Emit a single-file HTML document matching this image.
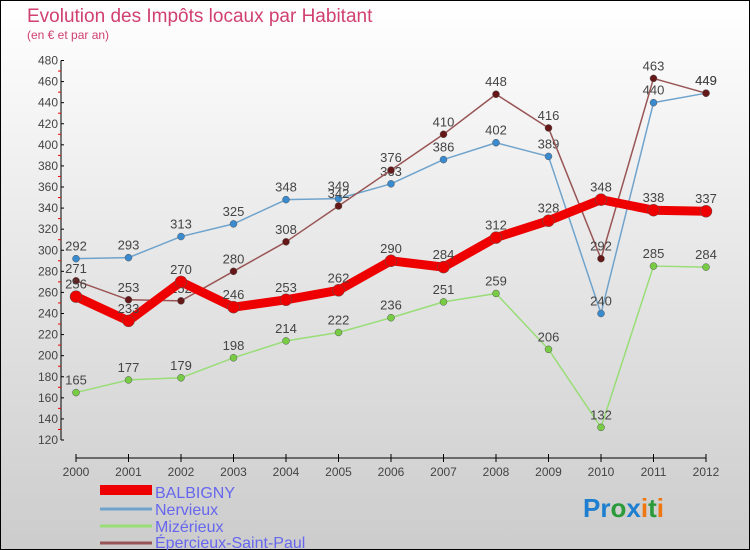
<!DOCTYPE html>
<html><head><meta charset="utf-8"><style>
body{margin:0;}
#c{width:750px;height:550px;position:relative;overflow:hidden;}
text{font-family:"Liberation Sans",sans-serif;}
</style></head><body>
<div id="c">
<svg id="s" width="750" height="550" xmlns="http://www.w3.org/2000/svg">
<defs><linearGradient id="bg" x1="0" y1="0" x2="0" y2="1"><stop offset="0" stop-color="#ffffff"/><stop offset="1" stop-color="#cccccc"/></linearGradient></defs>
<rect x="0.5" y="0.5" width="749" height="549" fill="url(#bg)" stroke="#000"/>
<text x="27" y="22" font-size="19" fill="#d04070">Evolution des Impôts locaux par Habitant</text>
<text x="27" y="39" font-size="12" fill="#d04070">(en € et par an)</text>
<g id="axes"></g><g id="series"></g>
<g>
<rect x="100" y="485" width="52" height="10" fill="#ee0000"/>
<text x="155" y="498" font-size="16" fill="#6666ee">BALBIGNY</text>
<line x1="100" y1="509" x2="152" y2="509" stroke="#6fa3cc" stroke-width="3"/>
<text x="155" y="515" font-size="16" fill="#6666ee">Nervieux</text>
<line x1="100" y1="526" x2="152" y2="526" stroke="#99dd77" stroke-width="3"/>
<text x="155" y="532" font-size="16" fill="#6666ee">Mizérieux</text>
<line x1="100" y1="543" x2="152" y2="543" stroke="#995555" stroke-width="3"/>
<text x="155" y="548" font-size="16" fill="#6666ee">Épercieux-Saint-Paul</text>
</g>
<g font-size="26" font-weight="bold">
<text x="583" y="517"><tspan fill="#1e7fd0">Pr</tspan><tspan fill="#2a9a3a">o</tspan><tspan fill="#1e7fd0">x</tspan><tspan fill="#ee7711">i</tspan><tspan fill="#2a9a3a">t</tspan><tspan fill="#ee7711">i</tspan></text>
</g>
</svg></div>
<script>
const years=["2000","2001","2002","2003","2004","2005","2006","2007","2008","2009","2010","2011","2012"];
const yTicks=[120,140,160,180,200,220,240,260,280,300,320,340,360,380,400,420,440,460,480];
const balbigny=[256,233,270,246,253,262,290,284,312,328,348,338,337];
const nervieux=[292,293,313,325,348,349,363,386,402,389,240,440,449];
const mizerieux=[165,177,179,198,214,222,236,251,259,206,132,285,284];
const epercieux=[271,253,252,280,308,342,376,410,448,416,292,463,449];
const NS="http://www.w3.org/2000/svg";
const X=i=>76+i*52.5;
const Y=v=>440-(v-120)*(379.5/360);
function mk(tag,attrs,parent){const e=document.createElementNS(NS,tag);for(const k in attrs)e.setAttribute(k,attrs[k]);parent.appendChild(e);return e;}
const ax=document.getElementById('axes');
let yl=mk('line',{x1:61,y1:Y(480),x2:61,y2:440,stroke:'#000'},ax);


yTicks.forEach((t,i)=>{
 mk('line',{x1:61,y1:Y(t),x2:64,y2:Y(t),stroke:'#000'},ax);
 if(i<yTicks.length-1) mk('line',{x1:58,y1:Y(t+10),x2:61,y2:Y(t+10),stroke:'#ee0000'},ax);
 const tx=mk('text',{x:58,y:Y(t)+4,'font-size':12,'text-anchor':'end',fill:'#444'},ax);
 tx.textContent=t;
 
 
});
let xl=mk('line',{x1:X(0),y1:458,x2:X(12),y2:458,stroke:'#000'},ax);


years.forEach((y,i)=>{
 mk('line',{x1:X(i),y1:454,x2:X(i),y2:462,stroke:'#000'},ax);
 const tx=mk('text',{x:X(i),y:476,'font-size':12,'text-anchor':'middle',fill:'#444'},ax);
 tx.textContent=y;
 
 
});
const sg=document.getElementById('series');
function series(data,color,w,r,name,dot){
 const g=mk('g',{},sg);
 
 
 const p=mk('polyline',{points:data.map((v,i)=>X(i)+','+Y(v)).join(' '),fill:'none',stroke:color,'stroke-width':w,'stroke-linejoin':'round'},g);
 
 
 data.forEach((v,i)=>{
  const c=mk('circle',{cx:X(i),cy:Y(v),r:r,fill:dot,stroke:'#555','stroke-width':0.5},g);
  
  
  const t=mk('text',{x:X(i),y:Y(v)-8,'font-size':13,'text-anchor':'middle',fill:'#444'},g);
  t.textContent=v;
  
  
 });
}
series(mizerieux,'#99dd77',1.5,3.5,'mizerieux','#77cc44');
series(nervieux,'#6fa3cc',1.5,3.5,'nervieux','#3a8ad0');
series(epercieux,'#995555',1.5,3.5,'epercieux','#661818');
series(balbigny,'#ee0000',9,6,'balbigny','#ee0000');
</script>
</body></html>
